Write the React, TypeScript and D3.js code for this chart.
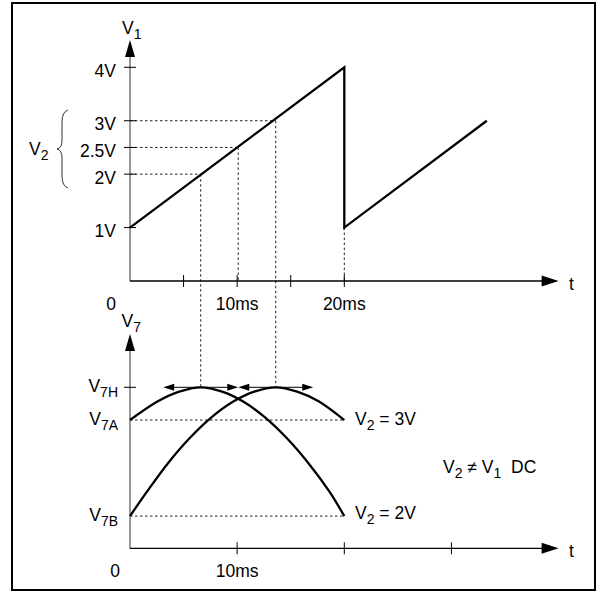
import React from 'react';
import * as d3 from 'd3';

// sawtooth V1 (time in ms, volts)
const v1Times = [0, 20, 20, 33.3];
const v1Volts = [1, 4, 1, 3];
const v1TickValues = [1, 2, 2.5, 3, 4];
const v1TickLabels = ['1V', '2V', '2.5V', '3V', '4V'];

// V2 levels and the times where the ramp crosses them
const v2Levels = [2, 2.5, 3];
const v2Times = [6.6, 10.1, 13.6];

const topTimeTicks = [5, 10, 15, 20];
const topTimeLabels = [{ t: 10, label: '10ms' }, { t: 20, label: '20ms' }];
const bottomTimeTicks = [10, 20, 30];

// V7 response (arbitrary units)
const v7Levels = [3.0, 2.39, 0.6];
const v7Names = ['7H', '7A', '7B'];
const curve2VTimes = [0, 2.6, 4.6, 6.6, 8.6, 10.6, 12.6, 14.6, 16.6, 18.6, 20];
const curve2VValues = [2.39, 2.74, 2.92, 3.0, 2.92, 2.73, 2.44, 2.06, 1.6, 1.06, 0.6];
const curve3VTimes = [0, 1.6, 3.6, 5.6, 7.6, 9.6, 11.6, 13.6, 15.6, 17.6, 20];
const curve3VValues = [0.6, 1.06, 1.6, 2.06, 2.44, 2.73, 2.92, 3.0, 2.92, 2.74, 2.39];
const peakTimes = [6.6, 13.6];
const peakHalfSpan = 3.5;

const FONT = 'Liberation Sans, Arial, Helvetica, sans-serif';
const FS = 17.5;
const SUB = 14;

const x = d3.scaleLinear().domain([0, 20]).range([130, 344.3]);
const y1 = d3.scaleLinear().domain([0, 4]).range([281, 67.3]);
const y7 = d3.scaleLinear().domain([0, 3]).range([548.3, 387.3]);

const tri = (tx: number, ty: number, dir: 'up' | 'right' | 'left', len: number, half: number) => {
  if (dir === 'up') return `M${tx},${ty}L${tx - half},${ty + len}L${tx + half},${ty + len}Z`;
  if (dir === 'right') return `M${tx},${ty}L${tx - len},${ty - half}L${tx - len},${ty + half}Z`;
  return `M${tx},${ty}L${tx + len},${ty - half}L${tx + len},${ty + half}Z`;
};

const Sub = ({ x0, y0, main, sub, rest, anchor }: any) => (
  <text x={x0} y={y0} fontSize={FS} textAnchor={anchor || 'start'} style={{ whiteSpace: 'pre' }}>
    <tspan>{main}</tspan>
    <tspan fontSize={SUB} dy={5}>{sub}</tspan>
    {rest ? <tspan dy={-5}>{rest}</tspan> : null}
  </text>
);

const App = () => {
  const sawLine = d3.line<number>()
    .x((_, i) => x(v1Times[i]))
    .y(d => y1(d));
  const v7Line = (times: number[]) => d3.line<number>()
    .x((_, i) => x(times[i]))
    .y(d => y7(d))
    .curve(d3.curveCatmullRom.alpha(0.5));

  const axisEnd = x(40);
  const dash = '2.5,2.5';

  return (
    <svg width={601} height={593} style={{ position: 'absolute', left: 0, top: 0 }} fontFamily={FONT}>
      <rect x={12} y={3} width={583} height={587} fill="white" stroke="black" strokeWidth={2} />

      {/* ---------- top chart ---------- */}
      {/* dashed guides */}
      {v2Levels.map((lv, i) => (
        <g key={'g' + i} stroke="#222" strokeWidth={1} strokeDasharray={dash}>
          <line x1={x(0)} x2={x(v2Times[i])} y1={y1(lv)} y2={y1(lv)} />
          <line x1={x(v2Times[i])} x2={x(v2Times[i])} y1={y1(lv)}
            y2={lv === 2.5 ? y1(0) : y7(v7Levels[0])} />
        </g>
      ))}
      <line x1={x(20)} x2={x(20)} y1={y1(1)} y2={y1(0)} stroke="#222" strokeDasharray={dash} />

      {/* axes */}
      <line x1={x(0)} x2={x(0)} y1={y1(0)} y2={54} stroke="#777" strokeWidth={1.5} />
      <path d={tri(x(0), 40, 'up', 17, 5)} fill="black" />
      <line x1={x(0)} x2={axisEnd - 14} y1={y1(0)} y2={y1(0)} stroke="black" strokeWidth={1.3} />
      <path d={tri(axisEnd, y1(0), 'right', 17, 5.5)} fill="black" />

      {v1TickValues.map((v, i) => (
        <g key={'yt' + i}>
          <line x1={x(0) - 6} x2={x(0) + 6} y1={y1(v)} y2={y1(v)} stroke="black" strokeWidth={1} />
          <text x={x(0) - 14} y={y1(v) + 9.5} fontSize={FS} textAnchor="end">{v1TickLabels[i]}</text>
        </g>
      ))}
      {topTimeTicks.map(t => (
        <line key={'xt' + t} x1={x(t)} x2={x(t)} y1={y1(0) - 6} y2={y1(0) + 6} stroke="black" strokeWidth={1} />
      ))}
      <text x={x(0) - 14} y={310} fontSize={FS} textAnchor="end">0</text>
      {topTimeLabels.map(d => (
        <text key={d.label} x={x(d.t)} y={310} fontSize={FS} textAnchor="middle">{d.label}</text>
      ))}
      <text x={569} y={y1(0) + 9} fontSize={FS}>t</text>
      <Sub x0={122} y0={34} main="V" sub="1" />

      {/* V2 brace */}
      <path d="M68,110 Q62,112 62,122 L62,140 Q62,148 57,149 Q62,150 62,158 L62,176 Q62,186 68,188"
        fill="none" stroke="#333" strokeWidth={1} />
      <Sub x0={29} y0={155} main="V" sub="2" />

      <path d={sawLine(v1Volts) || ''} fill="none" stroke="black" strokeWidth={2.3} strokeLinejoin="miter" />

      {/* ---------- bottom chart ---------- */}
      {v7Levels.slice(1).map((lv, i) => (
        <line key={'h7' + i} x1={x(0)} x2={x(20)} y1={y7(lv)} y2={y7(lv)}
          stroke="#222" strokeDasharray={dash} />
      ))}

      <line x1={x(0)} x2={x(0)} y1={y7(0)} y2={348} stroke="#777" strokeWidth={1.5} />
      <path d={tri(x(0), 334, 'up', 17, 5)} fill="black" />
      <line x1={x(0)} x2={axisEnd - 14} y1={y7(0)} y2={y7(0)} stroke="black" strokeWidth={1.3} />
      <path d={tri(axisEnd, y7(0), 'right', 17, 5.5)} fill="black" />

      <line x1={x(0) - 6} x2={x(0) + 6} y1={y7(v7Levels[0])} y2={y7(v7Levels[0])} stroke="black" strokeWidth={1} />
      {v7Levels.map((lv, i) => (
        <Sub key={'l7' + i} x0={x(0) - 12} y0={y7(lv) + 5} main="V" sub={v7Names[i]} anchor="end" />
      ))}
      {bottomTimeTicks.map(t => (
        <line key={'bt' + t} x1={x(t)} x2={x(t)} y1={y7(0) - 6} y2={y7(0) + 6} stroke="black" strokeWidth={1} />
      ))}
      <text x={x(0) - 10} y={577} fontSize={FS} textAnchor="end">0</text>
      <text x={x(10)} y={577} fontSize={FS} textAnchor="middle">10ms</text>
      <text x={569} y={y7(0) + 9} fontSize={FS}>t</text>
      <Sub x0={121.5} y0={327} main="V" sub="7" />

      {/* peak arrows */}
      {peakTimes.map((p, i) => (
        <g key={'pa' + i}>
          <line x1={x(p - peakHalfSpan) + 8} x2={x(p + peakHalfSpan) - 8} y1={y7(v7Levels[0])} y2={y7(v7Levels[0])}
            stroke="black" strokeWidth={1} />
          <path d={tri(x(p - peakHalfSpan), y7(v7Levels[0]), 'left', 11, 3.5)} fill="black" />
          <path d={tri(x(p + peakHalfSpan), y7(v7Levels[0]), 'right', 11, 3.5)} fill="black" />
        </g>
      ))}

      <path d={v7Line(curve2VTimes)(curve2VValues) || ''} fill="none" stroke="black" strokeWidth={2.3} />
      <path d={v7Line(curve3VTimes)(curve3VValues) || ''} fill="none" stroke="black" strokeWidth={2.3} />

      <Sub x0={355} y0={y7(v7Levels[1]) + 4.5} main="V" sub="2" rest=" = 3V" />
      <Sub x0={355} y0={y7(v7Levels[2]) + 3} main="V" sub="2" rest=" = 2V" />
      <text x={443} y={473} fontSize={FS} style={{ whiteSpace: 'pre' }}>
        <tspan>V</tspan>
        <tspan fontSize={SUB} dy={5}>2</tspan>
        <tspan dy={-5}> ≠ V</tspan>
        <tspan fontSize={SUB} dy={5}>1</tspan>
        <tspan dy={-5}>  DC</tspan>
      </text>
    </svg>
  );
};

export default App;
